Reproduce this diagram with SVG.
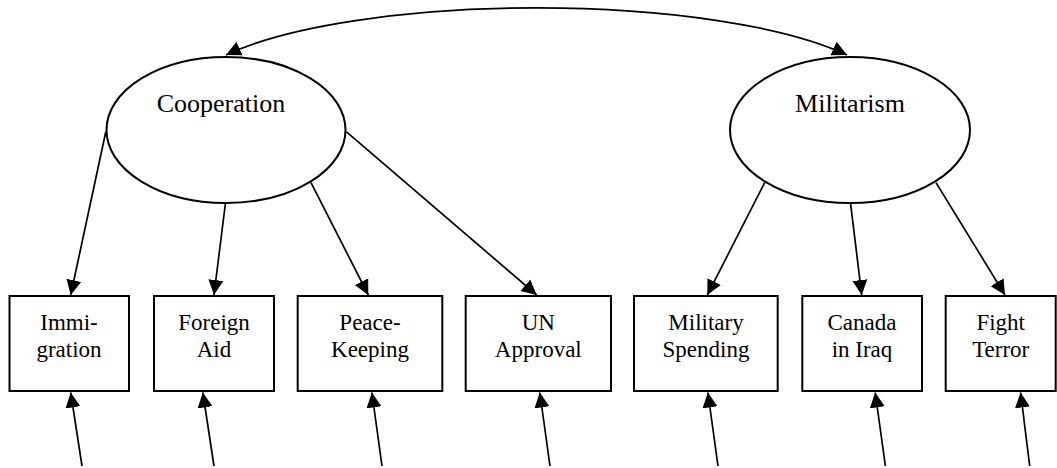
<svg xmlns="http://www.w3.org/2000/svg" width="1057" height="468" viewBox="0 0 1057 468">
  <style>
    .bg { fill: #ffffff; }
    .latent ellipse { fill: #ffffff; stroke: #000000; stroke-width: 2; }
    .obs rect { fill: #ffffff; stroke: #000000; stroke-width: 2; }
    .lt { font-family: "Liberation Serif", "Times New Roman", serif; font-size: 26px; fill: #000000; text-anchor: middle; }
    .bt { font-family: "Liberation Serif", "Times New Roman", serif; font-size: 23px; fill: #000000; text-anchor: middle; }
    .edge { fill: none; stroke: #000000; stroke-width: 1.7; marker-end: url(#arr); }
    .cov { fill: none; stroke: #000000; stroke-width: 1.7; marker-start: url(#arr); marker-end: url(#arr); }
  </style>
  <defs>
    <marker id="arr" markerUnits="userSpaceOnUse" markerWidth="16" markerHeight="16" refX="15" refY="8" orient="auto-start-reverse" viewBox="0 0 16 16">
      <path d="M0,0.5 L15,8 L0,15.5 z" fill="#000000"/>
    </marker>
  </defs>
  <rect class="bg" x="0" y="0" width="1057" height="468"/>

  <g id="connectors">
    <path class="cov" d="M 226 55 A 352 89 0 0 1 847 55"/>
    <line class="edge" x1="105.8" y1="131.8" x2="70.7" y2="295"/>
    <line class="edge" x1="225.5" y1="202.8" x2="214" y2="295"/>
    <line class="edge" x1="311" y1="182.6" x2="368.3" y2="295"/>
    <line class="edge" x1="346.5" y1="131.8" x2="536.7" y2="295"/>
    <line class="edge" x1="764.7" y1="182.6" x2="707.3" y2="295"/>
    <line class="edge" x1="850.5" y1="202.8" x2="861.7" y2="295"/>
    <line class="edge" x1="936" y1="182.6" x2="1005" y2="295"/>
    <line class="edge" x1="82" y1="466" x2="70.7" y2="392.5"/>
    <line class="edge" x1="214" y1="466" x2="202.8" y2="392.5"/>
    <line class="edge" x1="382" y1="466" x2="371.9" y2="392.5"/>
    <line class="edge" x1="550" y1="466" x2="539.8" y2="392.5"/>
    <line class="edge" x1="718" y1="466" x2="707.9" y2="392.5"/>
    <line class="edge" x1="885.4" y1="466" x2="875.2" y2="392.5"/>
    <line class="edge" x1="1029.7" y1="466" x2="1020.6" y2="392.5"/>
  </g>

  <g id="cooperation" class="latent">
    <ellipse cx="226" cy="130" rx="119.5" ry="73"/>
    <text class="lt" x="221" y="112">Cooperation</text>
  </g>
  <g id="militarism" class="latent">
    <ellipse cx="850" cy="130" rx="120" ry="73"/>
    <text class="lt" x="850" y="112">Militarism</text>
  </g>

  <g id="immigration" class="obs">
    <rect x="9.5" y="296" width="119.5" height="95"/>
    <text class="bt" x="69" y="330">Immi-</text>
    <text class="bt" x="69" y="357">gration</text>
  </g>
  <g id="foreign-aid" class="obs">
    <rect x="154" y="296" width="120" height="95"/>
    <text class="bt" x="214" y="330">Foreign</text>
    <text class="bt" x="214" y="357">Aid</text>
  </g>
  <g id="peace-keeping" class="obs">
    <rect x="297.7" y="296" width="144.6" height="95"/>
    <text class="bt" x="370" y="330">Peace-</text>
    <text class="bt" x="370" y="357">Keeping</text>
  </g>
  <g id="un-approval" class="obs">
    <rect x="465.7" y="296" width="145.3" height="95"/>
    <text class="bt" x="538.3" y="330">UN</text>
    <text class="bt" x="538.3" y="357">Approval</text>
  </g>
  <g id="military-spending" class="obs">
    <rect x="634" y="296" width="143.7" height="95"/>
    <text class="bt" x="706" y="330">Military</text>
    <text class="bt" x="706" y="357">Spending</text>
  </g>
  <g id="canada-in-iraq" class="obs">
    <rect x="802.3" y="296" width="119.7" height="95"/>
    <text class="bt" x="862" y="330">Canada</text>
    <text class="bt" x="862" y="357">in Iraq</text>
  </g>
  <g id="fight-terror" class="obs">
    <rect x="945.7" y="296" width="110" height="95"/>
    <text class="bt" x="1000.7" y="330">Fight</text>
    <text class="bt" x="1000.7" y="357">Terror</text>
  </g>
</svg>
